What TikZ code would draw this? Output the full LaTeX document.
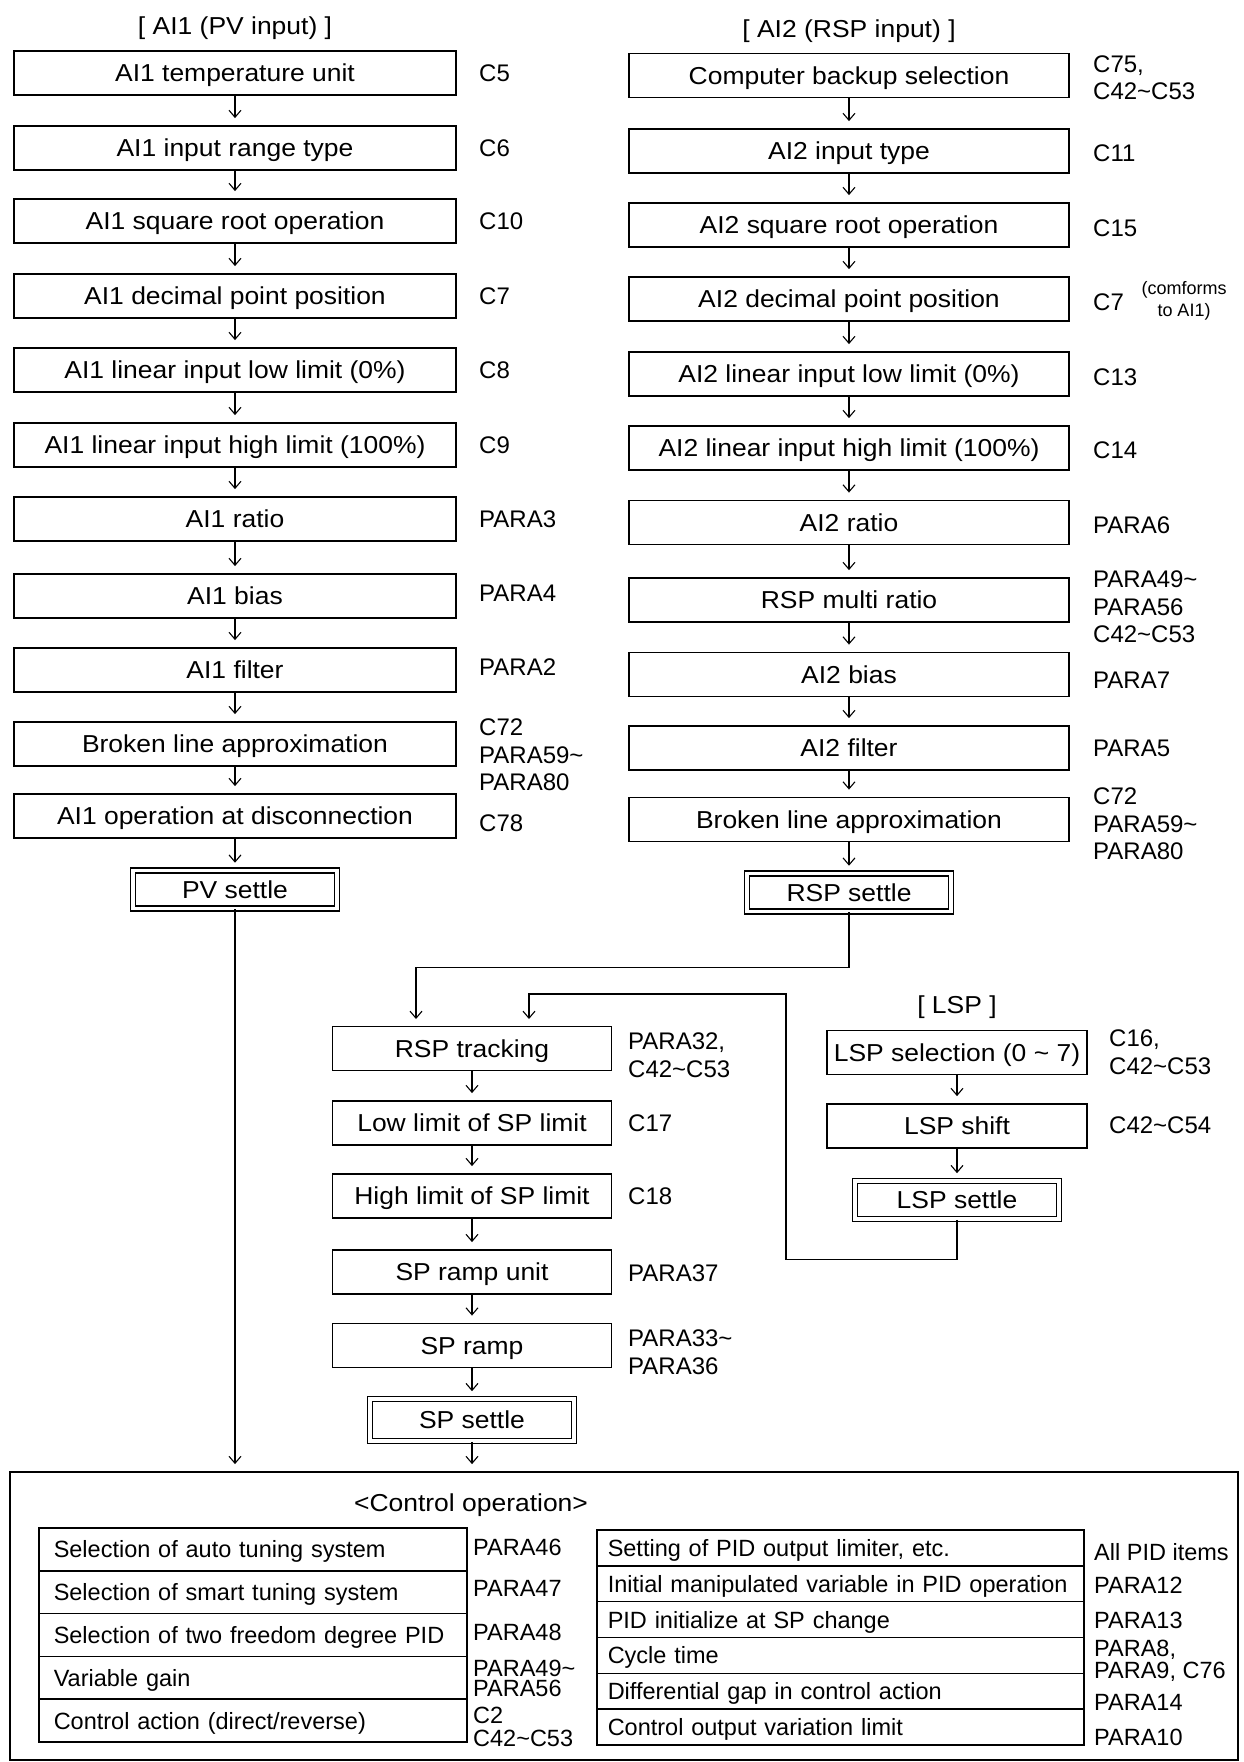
\documentclass[tikz,border=0pt]{standalone}
\usepackage{fontspec}
\setmainfont{Liberation Sans}
\newfontfamily\boxfamily[FakeStretch=1.08]{Liberation Sans}
\usetikzlibrary{arrows.meta}

\newcommand{\fbx}{\boxfamily\fontsize{24.5}{28}\selectfont}
\newcommand{\flb}{\fontsize{24}{27.5}\selectfont}
\newcommand{\ftb}{\fontsize{23.5}{27}\selectfont}
\newcommand{\fsm}{\fontsize{18}{22}\selectfont}

\begin{document}
\begin{tikzpicture}[x=1pt, y=-1pt,
  bx/.style={draw, line width=1.8pt, minimum width=442pt,
             minimum height=44pt, inner sep=0pt, font=\fbx,
             text height=17.5pt, text depth=0pt},
  stl/.style={draw, double, line width=1.6pt, double distance=3.6pt,
              minimum width=204pt, minimum height=38pt, inner sep=0pt,
              font=\fbx, text height=17.5pt, text depth=0pt},
  lbl/.style={anchor=west, align=left, inner sep=0pt, font=\flb},
  tlbl/.style={lbl, font=\ftb},
  arr/.style={-{Straight Barb[length=7pt, width=12pt, line width=1.1pt]},
              line width=1.1pt, shorten >=7pt},
  rw/.style={draw, line width=1.5pt, anchor=west, minimum height=42.8pt,
             text width=398pt, inner xsep=15pt, inner ysep=0pt,
             text height=17pt, text depth=0pt, align=left, font=\ftb}
]
\useasboundingbox[fill=white] (0,0) rectangle (1243,1762);

% AI1 column
\node[font=\fbx] (t1) at (235,28) {[ AI1 (PV input) ]};
\node[bx] (a1unit) at (235,73)  {AI1 temperature unit};
\node[bx] (a1type) at (235,148) {AI1 input range type};
\node[bx] (a1sqr)  at (235,221) {AI1 square root operation};
\node[bx] (a1dec)  at (235,296) {AI1 decimal point position};
\node[bx] (a1low)  at (235,370) {AI1 linear input low limit (0\%)};
\node[bx] (a1high) at (235,445) {AI1 linear input high limit (100\%)};
\node[bx] (a1rat)  at (235,519) {AI1 ratio};
\node[bx] (a1bias) at (235,596) {AI1 bias};
\node[bx] (a1filt) at (235,670) {AI1 filter};
\node[bx] (a1brk)  at (235,744) {Broken line approximation};
\node[bx] (a1disc) at (235,816) {AI1 operation at disconnection};
\node[stl] (pvset) at (235,889.5) {PV settle};

\node[lbl] (l1unit) at (479,73)  {C5};
\node[lbl] (l1type) at (479,148) {C6};
\node[lbl] (l1sqr)  at (479,221) {C10};
\node[lbl] (l1dec)  at (479,296) {C7};
\node[lbl] (l1low)  at (479,370) {C8};
\node[lbl] (l1high) at (479,445) {C9};
\node[lbl] (l1rat)  at (479,519) {PARA3};
\node[lbl] (l1bias) at (479,593) {PARA4};
\node[lbl] (l1filt) at (479,667) {PARA2};
\node[lbl] (l1brk)  at (479,755) {C72\\PARA59\textasciitilde\\PARA80};
\node[lbl] (l1disc) at (479,823) {C78};

\draw[arr] (a1unit) -- (a1type);
\draw[arr] (a1type) -- (a1sqr);
\draw[arr] (a1sqr)  -- (a1dec);
\draw[arr] (a1dec)  -- (a1low);
\draw[arr] (a1low)  -- (a1high);
\draw[arr] (a1high) -- (a1rat);
\draw[arr] (a1rat)  -- (a1bias);
\draw[arr] (a1bias) -- (a1filt);
\draw[arr] (a1filt) -- (a1brk);
\draw[arr] (a1brk)  -- (a1disc);
\draw[arr] (a1disc) -- (pvset);

% AI2 column
\node[font=\fbx] (t2) at (849,31) {[ AI2 (RSP input) ]};
\node[bx, minimum width=440pt] (a2bkp)  at (849,75.5) {Computer backup selection};
\node[bx, minimum width=440pt] (a2type) at (849,151)  {AI2 input type};
\node[bx, minimum width=440pt] (a2sqr)  at (849,225)  {AI2 square root operation};
\node[bx, minimum width=440pt] (a2dec)  at (849,299)  {AI2 decimal point position};
\node[bx, minimum width=440pt] (a2low)  at (849,374)  {AI2 linear input low limit (0\%)};
\node[bx, minimum width=440pt] (a2high) at (849,448)  {AI2 linear input high limit (100\%)};
\node[bx, minimum width=440pt] (a2rat)  at (849,522.5) {AI2 ratio};
\node[bx, minimum width=440pt] (a2mult) at (849,600)  {RSP multi ratio};
\node[bx, minimum width=440pt] (a2bias) at (849,674.5) {AI2 bias};
\node[bx, minimum width=440pt] (a2filt) at (849,748)  {AI2 filter};
\node[bx, minimum width=440pt] (a2brk)  at (849,819.5) {Broken line approximation};
\node[stl] (rspset) at (849,892.5) {RSP settle};

\node[lbl] (l2bkp)  at (1093,77.5) {C75,\\C42\textasciitilde C53};
\node[lbl] (l2type) at (1093,153)  {C11};
\node[lbl] (l2sqr)  at (1093,228)  {C15};
\node[lbl] (l2dec)  at (1093,302)  {C7};
\node[font=\fsm, align=center, inner sep=0pt] (c7note) at (1184,301)
  {(comforms\\to AI1)};
\node[lbl] (l2low)  at (1093,377)  {C13};
\node[lbl] (l2high) at (1093,450)  {C14};
\node[lbl] (l2rat)  at (1093,525)  {PARA6};
\node[lbl] (l2mult) at (1093,607)  {PARA49\textasciitilde\\PARA56\\C42\textasciitilde C53};
\node[lbl] (l2bias) at (1093,680)  {PARA7};
\node[lbl] (l2filt) at (1093,748)  {PARA5};
\node[lbl] (l2brk)  at (1093,824)  {C72\\PARA59\textasciitilde\\PARA80};

\draw[arr] (a2bkp)  -- (a2type);
\draw[arr] (a2type) -- (a2sqr);
\draw[arr] (a2sqr)  -- (a2dec);
\draw[arr] (a2dec)  -- (a2low);
\draw[arr] (a2low)  -- (a2high);
\draw[arr] (a2high) -- (a2rat);
\draw[arr] (a2rat)  -- (a2mult);
\draw[arr] (a2mult) -- (a2bias);
\draw[arr] (a2bias) -- (a2filt);
\draw[arr] (a2filt) -- (a2brk);
\draw[arr] (a2brk)  -- (rspset);

% SP column
\node[bx, minimum width=279pt] (rsptrk) at (472,1048.5) {RSP tracking};
\node[bx, minimum width=279pt] (splow)  at (472,1123)   {Low limit of SP limit};
\node[bx, minimum width=279pt] (sphigh) at (472,1196)   {High limit of SP limit};
\node[bx, minimum width=279pt] (rampu)  at (472,1272)   {SP ramp unit};
\node[bx, minimum width=279pt] (ramp)   at (472,1345.5) {SP ramp};
\node[stl, minimum height=42pt] (spset) at (472,1420) {SP settle};

\node[lbl] (lrsptrk) at (628,1055) {PARA32,\\C42\textasciitilde C53};
\node[lbl] (lsplow)  at (628,1123) {C17};
\node[lbl] (lsphigh) at (628,1196) {C18};
\node[lbl] (lrampu)  at (628,1273) {PARA37};
\node[lbl] (lramp)   at (628,1352) {PARA33\textasciitilde\\PARA36};

\draw[arr] (rsptrk) -- (splow);
\draw[arr] (splow)  -- (sphigh);
\draw[arr] (sphigh) -- (rampu);
\draw[arr] (rampu)  -- (ramp);
\draw[arr] (ramp)   -- (spset);

% LSP column
\node[font=\fbx] (t3) at (957,1007) {[ LSP ]};
\node[bx, minimum width=260pt] (lspsel) at (957,1052.5) {LSP selection (0 \textasciitilde\ 7)};
\node[bx, minimum width=260pt] (lspsh)  at (957,1126)   {LSP shift};
\node[stl] (lspset) at (957,1200) {LSP settle};

\node[lbl] (llspsel) at (1109,1052) {C16,\\C42\textasciitilde C53};
\node[lbl] (llspsh)  at (1109,1125) {C42\textasciitilde C54};

\draw[arr] (lspsel) -- (lspsh);
\draw[arr] (lspsh)  -- (lspset);

% RSP and LSP into the SP chain
\coordinate (rspin)   at (416,1026);
\coordinate (lspturn) at (786,994);
\coordinate (lspin)   at (529,1026);
\draw[arr] (rspset.south) -- ++(0,55) -| (rspin);
\draw[arr] (lspset.south) -- ++(0,40) -| (lspturn) -| (lspin);

% Control operation
\node[draw, line width=1.8pt, minimum width=1228pt, minimum height=288pt,
      inner sep=0pt] (ctrl) at (624,1616) {};
\node[font=\fbx] (ctitle) at (471,1505) {<Control operation>};
\draw[arr] (pvset.south) -- (pvset.south |- ctrl.north);
\draw[arr] (spset.south) -- (spset.south |- ctrl.north);

\node[rw] (atun)  at (38,1549.4) {Selection of auto tuning system};
\node[rw] (stun)  at (38,1592.2) {Selection of smart tuning system};
\node[rw] (tdof)  at (38,1635)   {Selection of two freedom degree PID};
\node[rw] (vgain) at (38,1677.8) {Variable gain};
\node[rw] (cact)  at (38,1720.6) {Control action (direct/reverse)};

\node[tlbl] (latun)  at (473,1547) {PARA46};
\node[tlbl] (lstun)  at (473,1588) {PARA47};
\node[tlbl] (ltdof)  at (473,1632) {PARA48};
\node[tlbl] (lvgain) at (473,1678) {PARA49\textasciitilde\\[-7pt]PARA56};
\node[tlbl] (lcact)  at (473,1726.5) {C2\\[-4pt]C42\textasciitilde C53};

\node[rw, minimum height=35.8pt, text width=465pt, inner xsep=11pt]
  (plim) at (596,1547.9) {Setting of PID output limiter, etc.};
\node[rw, minimum height=35.8pt, text width=465pt, inner xsep=11pt]
  (pmv)  at (596,1583.7) {Initial manipulated variable in PID operation};
\node[rw, minimum height=35.8pt, text width=465pt, inner xsep=11pt]
  (pini) at (596,1619.6) {PID initialize at SP change};
\node[rw, minimum height=35.8pt, text width=465pt, inner xsep=11pt]
  (cyc)  at (596,1655.4) {Cycle time};
\node[rw, minimum height=35.8pt, text width=465pt, inner xsep=11pt]
  (dgap) at (596,1691.2) {Differential gap in control action};
\node[rw, minimum height=35.8pt, text width=465pt, inner xsep=11pt]
  (ovar) at (596,1727.1) {Control output variation limit};

\node[tlbl] (lplim) at (1094,1552) {All PID items};
\node[tlbl] (lpmv)  at (1094,1585) {PARA12};
\node[tlbl] (lpini) at (1094,1620) {PARA13};
\node[tlbl] (lcyc)  at (1094,1661) {PARA8,\\[-5pt]PARA9, C76};
\node[tlbl] (ldgap) at (1094,1702) {PARA14};
\node[tlbl] (lovar) at (1094,1737) {PARA10};
\end{tikzpicture}
\end{document}
